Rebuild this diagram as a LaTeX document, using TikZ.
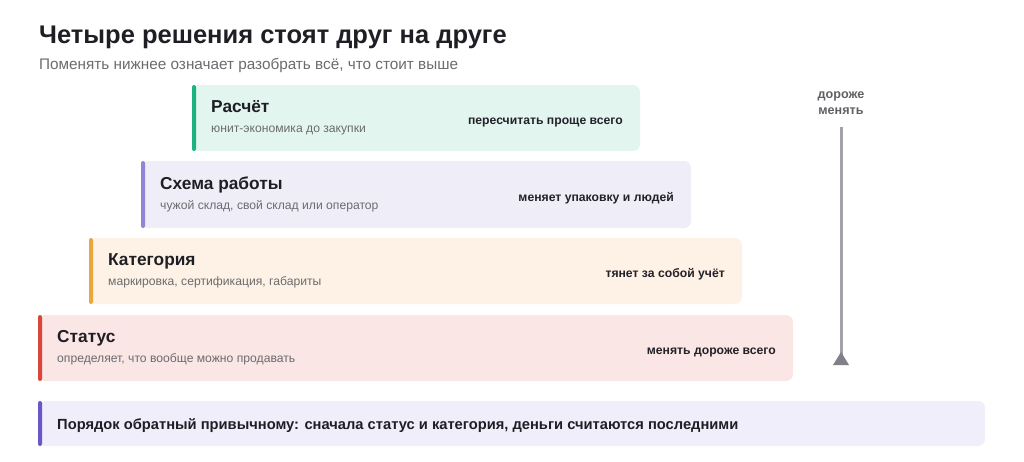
\documentclass[tikz,border=0pt]{standalone}
\usepackage{fontspec}
\setmainfont{Liberation Sans}
\definecolor{titlec}{HTML}{1E1E24}
\definecolor{subc}{HTML}{6B6B70}
\definecolor{notec}{HTML}{222228}
\definecolor{arrc}{HTML}{A2A2A8}
\definecolor{arrtip}{HTML}{808088}
\definecolor{gfill}{HTML}{E2F5EE}
\definecolor{gbar}{HTML}{1DB27F}
\definecolor{pfill}{HTML}{EFEEF8}
\definecolor{pbar}{HTML}{9285D8}
\definecolor{ofill}{HTML}{FDF2E5}
\definecolor{obar}{HTML}{E9A73F}
\definecolor{rfill}{HTML}{FAE6E4}
\definecolor{rbar}{HTML}{D8463C}
\definecolor{bfill}{HTML}{EFEEFA}
\definecolor{bbar}{HTML}{6A56C6}
\begin{document}
\begin{tikzpicture}[x=1pt,y=-1pt,
  card/.style={rounded corners=7pt},
  barst/.style={rounded corners=2pt},
  ttl/.style={anchor=base west, font=\bfseries\fontsize{17.3}{20}\selectfont, text=titlec, inner sep=0},
  sub/.style={anchor=base west, font=\fontsize{12.15}{14}\selectfont, text=subc, inner sep=0},
  note/.style={anchor=base east, font=\bfseries\fontsize{12.2}{14}\selectfont, text=notec, inner sep=0},
  lbl/.style={anchor=base, font=\bfseries\fontsize{12.6}{15}\selectfont, text=subc!90!black, inner sep=0}
]
\useasboundingbox (0,0) rectangle (1024,461);
\node[anchor=base west, inner sep=0, font=\bfseries\fontsize{25.5}{30}\selectfont, text=titlec] (title) at (39,43) {Четыре решения стоят друг на друге};
\node[anchor=base west, inner sep=0, font=\fontsize{15.3}{18}\selectfont, text=subc] (subtitle) at (39,69) {Поменять нижнее означает разобрать всё, что стоит выше};
% box 1
\fill[card, fill=gfill] (192,85) rectangle (640,151);
\fill[barst, fill=gbar] (192,85) rectangle (196,151);
\node[ttl] (t1) at (211,112) {Расчёт};
\node[sub] (s1) at (211,132) {юнит-экономика до закупки};
\node[note] (n1) at (623,124) {пересчитать проще всего};
% box 2
\fill[card, fill=pfill] (141,161) rectangle (691,228);
\fill[barst, fill=pbar] (141,161) rectangle (145,228);
\node[ttl] (t2) at (160,189) {Схема работы};
\node[sub] (s2) at (160,209) {чужой склад, свой склад или оператор};
\node[note] (n2) at (674,201) {меняет упаковку и людей};
% box 3
\fill[card, fill=ofill] (89,238) rectangle (742,304);
\fill[barst, fill=obar] (89,238) rectangle (93,304);
\node[ttl] (t3) at (108,265) {Категория};
\node[sub] (s3) at (108,285) {маркировка, сертификация, габариты};
\node[note] (n3) at (725,277) {тянет за собой учёт};
% box 4
\fill[card, fill=rfill] (38,315) rectangle (793,381);
\fill[barst, fill=rbar] (38,315) rectangle (42,381);
\node[ttl] (t4) at (57,342) {Статус};
\node[sub] (s4) at (57,362) {определяет, что вообще можно продавать};
\node[note] (n4) at (776,354) {менять дороже всего};
% bottom
\fill[card, fill=bfill] (38,401) rectangle (985,446);
\fill[barst, fill=bbar] (38,401) rectangle (42,446);
\node[anchor=base west, inner sep=0, font=\bfseries\fontsize{14.7}{17}\selectfont, text=titlec] (bottom) at (57,429) {Порядок обратный привычному: сначала статус и категория, деньги считаются последними};
% arrow
\node[lbl] (l1) at (841,98) {дороже};
\node[lbl] (l2) at (841,114) {менять};
\coordinate (atop) at (841,127);
\coordinate (abot) at (841,363);
\draw[arrc, line width=3pt] (atop) -- (abot);
\fill[arrtip] ([yshift=11pt]abot) -- ([xshift=-8pt,yshift=-2pt]abot) -- ([xshift=8pt,yshift=-2pt]abot) -- cycle;
\end{tikzpicture}
\end{document}
